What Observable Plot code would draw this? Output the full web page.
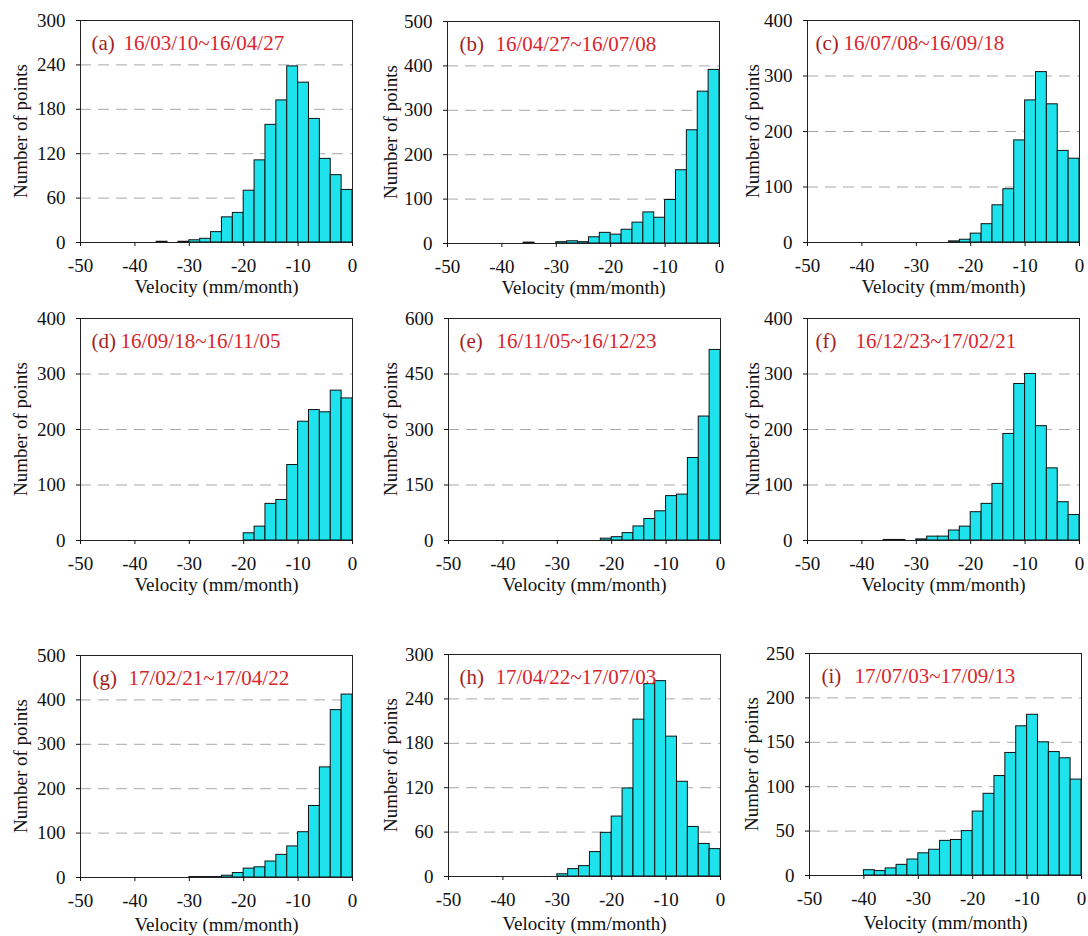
<!DOCTYPE html>
<html><head><meta charset="utf-8">
<script src="https://cdn.jsdelivr.net/npm/d3@7"></script>
<script src="https://cdn.jsdelivr.net/npm/@observablehq/plot@0.6"></script>
<style>
html,body{margin:0;padding:0;background:#fff;overflow:hidden;}
#chart{position:relative;width:1088px;height:936px;overflow:hidden;background:#fff;}
#chart svg{position:absolute;}
.ylab{position:absolute;white-space:nowrap;font-family:'Liberation Serif','Times New Roman',serif;font-size:19px;color:#111;transform:translate(-50%,-50%) rotate(-90deg);line-height:1;}
</style></head><body><div id="chart"></div>
<script>
// ---- data ----
const binLeft = [-50,-48,-46,-44,-42,-40,-38,-36,-34,-32,-30,-28,-26,-24,-22,-20,-18,-16,-14,-12,-10,-8,-6,-4,-2];
const binWidth = 2;
const xTicks = [-50,-40,-30,-20,-10,0];

const panelLabels = ["(a)","(b)","(c)","(d)","(e)","(f)","(g)","(h)","(i)"];
const panelDates = [
  "16/03/10~16/04/27","16/04/27~16/07/08","16/07/08~16/09/18",
  "16/09/18~16/11/05","16/11/05~16/12/23","16/12/23~17/02/21",
  "17/02/21~17/04/22","17/04/22~17/07/03","17/07/03~17/09/13"
];
const xLabel = "Velocity (mm/month)";
const yLabel = "Number of points";

const countsA = [0,0,0,0,0,0,0,1,0,1,3,5,14,34,40,70,111,159,192,238,216,167,113,91,71];
const countsB = [0,0,0,0,0,0,0,2,0,0,3,5,3,14,24,20,31,47,70,58,98,165,255,342,391];
const countsC = [0,0,0,0,0,0,0,0,0,0,0,0,0,2,5,16,33,67,96,184,256,307,249,165,151];
const countsD = [0,0,0,0,0,0,0,0,0,0,0,0,0,0,0,13,25,66,73,136,214,235,231,270,256];
const countsE = [0,0,0,0,0,0,0,0,0,0,0,0,0,0,5,9,20,38,58,79,120,124,223,335,515];
const countsF = [0,0,0,0,0,0,0,1,1,0,2,7,7,18,25,51,66,102,192,282,300,206,130,69,46];
const countsG = [0,0,0,0,0,0,0,0,0,0,1,1,1,4,10,20,23,36,51,70,102,161,248,377,412];
const countsH = [0,0,0,0,0,0,0,0,0,0,3,10,14,33,59,81,119,212,260,264,189,128,67,44,37];
const countsI = [0,0,0,0,0,6,5,8,12,18,25,29,39,40,50,72,92,112,138,168,181,150,139,132,108];
const panelCounts = [countsA,countsB,countsC,countsD,countsE,countsF,countsG,countsH,countsI];

const yTicksA = [0,60,120,180,240,300];
const yTicksB = [0,100,200,300,400,500];
const yTicksC = [0,100,200,300,400];
const yTicksD = [0,100,200,300,400];
const yTicksE = [0,150,300,450,600];
const yTicksF = [0,100,200,300,400];
const yTicksG = [0,100,200,300,400,500];
const yTicksH = [0,60,120,180,240,300];
const yTicksI = [0,50,100,150,200,250];
const panelYTicks = [yTicksA,yTicksB,yTicksC,yTicksD,yTicksE,yTicksF,yTicksG,yTicksH,yTicksI];

// ---- layout ----
const plotLeft = [80,447,807, 80,448,807, 80,448,809];
const plotTop  = [20,21,20, 318,318,318, 655,654,653];
const labelDx  = [11,12,8, 11,11,8, 12,11,12];
const dateDx   = [43,48,36, 40,48,48, 48,47,45];
const xLabDy   = [44,44,44, 44,44,44, 47,47,47];
const yLabOff  = [60,57,55, 60,58,55, 60,58,58];
const ML = 70, MR = 6, MT = 10, MB = 60, PW = 272, PH = 222;

const font = "'Liberation Serif', 'Times New Roman', serif";
const chart = document.getElementById("chart");

panelCounts.forEach((counts, i) => {
  const rows = binLeft.map((x, j) => ({x1: x, x2: x + binWidth, count: counts[j]})).filter(r => r.count > 0);
  const ticks = panelYTicks[i];
  const yMax = ticks[ticks.length - 1];
  const grid = ticks.filter(t => t > 0 && t < yMax);
  const svg = Plot.plot({
    width: ML + PW + MR, height: MT + PH + MB,
    marginLeft: ML, marginRight: MR, marginTop: MT, marginBottom: MB,
    style: {fontFamily: font, fontSize: "19px", color: "#111", background: "transparent", overflow: "visible"},
    x: {domain: [-50, 0]},
    y: {domain: [0, yMax]},
    marks: [
      Plot.ruleY(grid, {stroke: "#a8a8a8", strokeDasharray: "11,7", strokeWidth: 1}),
      Plot.rectY(rows, {x1: "x1", x2: "x2", y: "count", fill: "#1fe3ec", stroke: "#111", strokeWidth: 1}),
      Plot.frame({stroke: "#222", strokeWidth: 1}),
      Plot.axisX({ticks: xTicks, tickSize: 4, tickPadding: 12, label: null, tickFormat: d => String(d), fontSize: 19}),
      Plot.axisY({ticks: ticks, tickSize: 4, tickPadding: 11, label: null, tickFormat: d => String(d), fontSize: 19}),
      Plot.text([xLabel], {frameAnchor: "bottom", text: d => d, dy: xLabDy[i], fontSize: 19, lineAnchor: "middle"}),
      Plot.text([panelLabels[i]], {frameAnchor: "top-left", text: d => d, dx: labelDx[i], dy: 23, fontSize: 21, textAnchor: "start", lineAnchor: "middle", fill: "#a11f22"}),
      Plot.text([panelDates[i]], {frameAnchor: "top-left", text: d => d, dx: dateDx[i], dy: 23, fontSize: 21, textAnchor: "start", lineAnchor: "middle", fill: "#d8262c"})
    ]
  });
  svg.style.left = (plotLeft[i] - ML) + "px";
  svg.style.top = (plotTop[i] - MT) + "px";
  chart.appendChild(svg);

  const yl = document.createElement("div");
  yl.className = "ylab";
  yl.textContent = yLabel;
  yl.style.left = (plotLeft[i] - yLabOff[i]) + "px";
  yl.style.top = (plotTop[i] + PH / 2) + "px";
  chart.appendChild(yl);
});
</script></body></html>
